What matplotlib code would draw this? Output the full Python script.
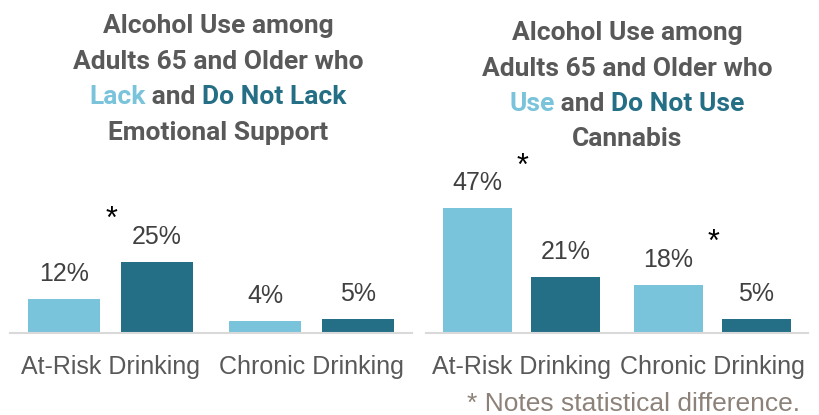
import matplotlib
matplotlib.use("Agg")
import matplotlib.pyplot as plt
import numpy as np
from matplotlib import font_manager

# Data
categories = ["At-Risk Drinking", "Chronic Drinking"]
lack_support = [12, 4]
no_lack_support = [25, 5]
use_cannabis = [47, 18]
no_use_cannabis = [21, 5]
left_star = [True, False]
right_star = [True, True]

left_title = ["Alcohol Use among", "Adults 65 and Older who",
              ["Lack", " and ", "Do Not Lack"], "Emotional Support"]
right_title = ["Alcohol Use among", "Adults 65 and Older who",
               ["Use", " and ", "Do Not Use"], "Cannabis"]
footnote = "* Notes statistical difference."

# Colours
LIGHT = "#79C3DB"
DARK = "#246F85"
TITLE_GRAY = "#595959"
TEXT_GRAY = "#404040"
NOTE = "#8C8279"
AXIS = "#D9D9D9"


def pick_font(names):
    for n in names:
        try:
            font_manager.findfont(n, fallback_to_default=False)
            return n
        except ValueError:
            continue
    return "DejaVu Sans"


TITLE_FONT = pick_font(["Roboto", "Liberation Sans", "DejaVu Sans"])
BODY_FONT = pick_font(["Liberation Sans", "Roboto", "DejaVu Sans"])

W, H = 820, 415
fig = plt.figure(figsize=(W / 100, H / 100), dpi=100)


def fx(x):
    return x / W


def fy(y):
    return (H - y) / H


def draw_panel(rect, light_vals, dark_vals, stars, ymax):
    ax = fig.add_axes(rect)
    x = np.arange(len(categories))
    off, width = 0.23, 0.36
    b1 = ax.bar(x - off, light_vals, width, color=LIGHT)
    b2 = ax.bar(x + off, dark_vals, width, color=DARK)
    ax.set_xlim(-0.5, 1.5)
    ax.set_ylim(0, ymax)
    for s in ["top", "left", "right"]:
        ax.spines[s].set_visible(False)
    ax.spines["bottom"].set_color(AXIS)
    ax.spines["bottom"].set_linewidth(1.5)
    ax.set_xticks([])
    ax.set_yticks([])
    ax.patch.set_alpha(0)
    for bars in (b1, b2):
        for bar in bars:
            v = bar.get_height()
            ax.annotate(f"{v:g}%", (bar.get_x() + bar.get_width() / 2, v),
                        xytext=(0, 18), textcoords="offset points",
                        ha="center", va="center", fontsize=18,
                        color=TEXT_GRAY, family=BODY_FONT, annotation_clip=False)
    for i, cat in enumerate(categories):
        ax.annotate(cat, (i, 0), xycoords=("data", "axes fraction"),
                    xytext=(0, -30), textcoords="offset points",
                    ha="center", va="baseline", fontsize=18,
                    color=TITLE_GRAY, family=BODY_FONT, annotation_clip=False)
        if stars[i]:
            top = max(light_vals[i], dark_vals[i])
            ax.annotate("*", (i, top), xytext=(1, 30), textcoords="offset points",
                        ha="center", va="center", fontsize=22, color="black",
                        family=BODY_FONT, annotation_clip=False)
    return ax


# baseline at y=332.7 px, axes top at y=150 px
draw_panel([fx(10), fy(332.7), fx(412) - fx(10), (332.7 - 150) / H],
           lack_support, no_lack_support, left_star, 182.7 / 2.83)
draw_panel([fx(426), fy(332.7), fx(808) - fx(426), (332.7 - 150) / H],
           use_cannabis, no_use_cannabis, right_star, 182.7 / 2.65)

renderer = fig.canvas.get_renderer()


def draw_title(lines, xc, baselines):
    kw = dict(fontsize=19, fontweight="bold", family=TITLE_FONT, va="baseline")
    for line, yb in zip(lines, baselines):
        if isinstance(line, str):
            fig.text(fx(xc), fy(yb), line, ha="center", color=TITLE_GRAY, **kw)
        else:
            colors = [LIGHT, TITLE_GRAY, DARK]
            texts = [fig.text(0, fy(yb), s, ha="left", color=c, **kw)
                     for s, c in zip(line, colors)]
            widths = [t.get_window_extent(renderer).width for t in texts]
            x0 = xc - sum(widths) / 2
            for t, w in zip(texts, widths):
                t.set_x(fx(x0))
                x0 += w


draw_title(left_title, 218, [33.5, 69, 104.5, 140])
draw_title(right_title, 627, [40, 75.5, 111, 146.5])

fig.text(fx(800), fy(411), footnote, ha="right", va="baseline", fontsize=19,
         color=NOTE, family=BODY_FONT)

fig.savefig("out.png", dpi=100)
